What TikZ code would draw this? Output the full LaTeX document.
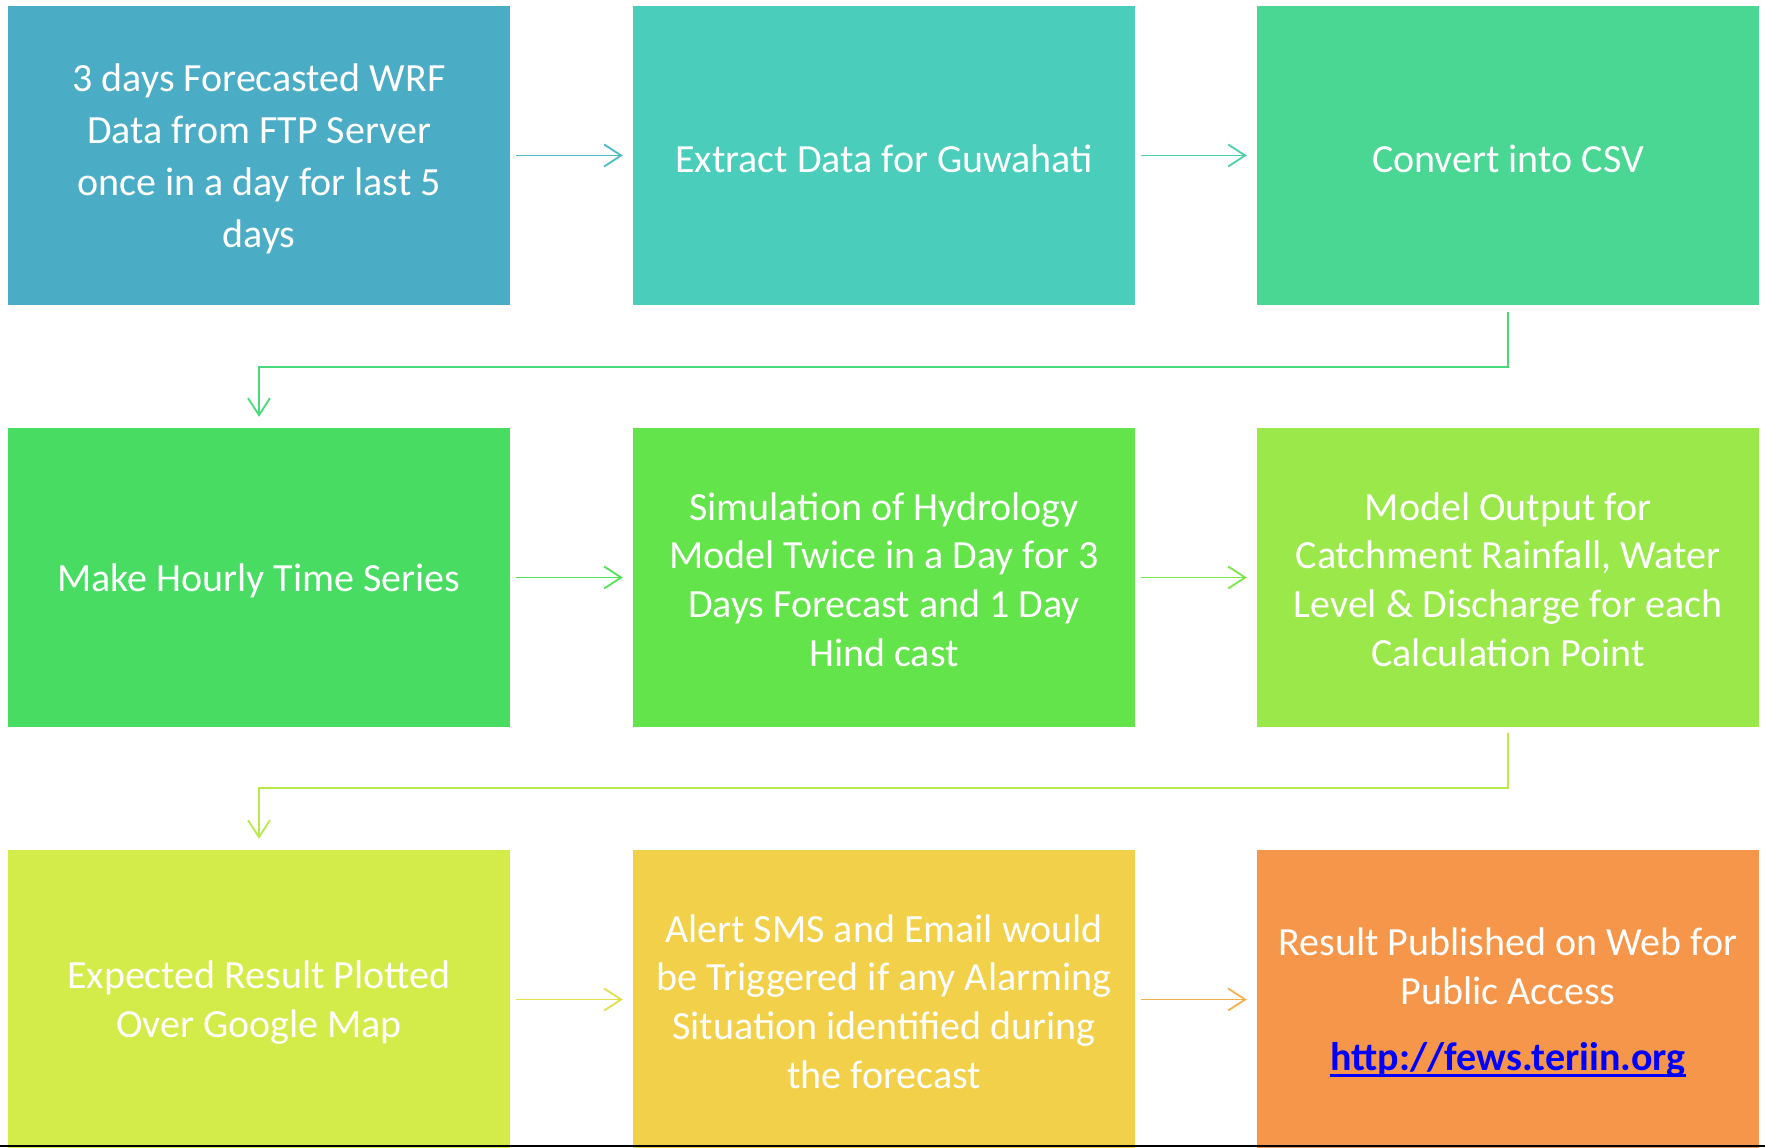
\documentclass[tikz,border=0pt]{standalone}
\usepackage{fontspec}
\setmainfont{Carlito}
\usetikzlibrary{arrows.meta}
\definecolor{c1}{HTML}{4BACC6}
\definecolor{c2}{HTML}{4ACDBB}
\definecolor{c3}{HTML}{4AD693}
\definecolor{c4}{HTML}{48DC62}
\definecolor{c5}{HTML}{62E44A}
\definecolor{c6}{HTML}{9AE84A}
\definecolor{c7}{HTML}{D4EC4A}
\definecolor{c8}{HTML}{F2D04A}
\definecolor{c9}{HTML}{F6964A}
\definecolor{linkblue}{HTML}{0000FF}
\newlength\ulwd
\newcommand\myuline[1]{\settowidth{\ulwd}{#1}\rlap{\rule[-7pt]{\ulwd}{3pt}}#1}
\begin{document}
\begin{tikzpicture}[x=1pt,y=-1pt,
  box/.style={rectangle, minimum width=502pt, minimum height=299pt, inner sep=0pt},
  txt/.style={inner sep=0pt, text=white, align=center, font=\fontsize{40pt}{48.8pt}\selectfont},
  txtwide/.style={txt, font=\fontsize{40pt}{52pt}\selectfont},
  arr/.style={line width=1.8pt, -{Straight Barb[length=17pt,width=22pt]}}]
\useasboundingbox (0,0) rectangle (1765,1148);
% boxes
\node[box, fill=c1] (b1) at (259,155.5) {};
\node[box, fill=c2] (b2) at (884,155.5) {};
\node[box, fill=c3] (b3) at (1508,155.5) {};
\node[box, fill=c4] (b4) at (259,577.5) {};
\node[box, fill=c5] (b5) at (884,577.5) {};
\node[box, fill=c6] (b6) at (1508,577.5) {};
\node[box, fill=c7] (b7) at (259,999.5) {};
\node[box, fill=c8] (b8) at (884,999.5) {};
\node[box, fill=c9] (b9) at (1508,999.5) {};
% texts
\node[txtwide] (t1) at ([yshift=-3pt]b1.center) {3 days Forecasted WRF\\Data from FTP Server\\once in a day for last 5\\days};
\node[txt] (t2) at ([yshift=-3pt]b2.center) {Extract Data for Guwahati};
\node[txt] (t3) at ([yshift=-3pt]b3.center) {Convert into CSV};
\node[txt] (t4) at ([yshift=-3pt]b4.center) {Make Hourly Time Series};
\node[txt] (t5) at ([yshift=-2pt]b5.center) {Simulation of Hydrology\\Model Twice in a Day for 3\\Days Forecast and 1 Day\\Hind cast};
\node[txt] (t6) at ([yshift=-2pt]b6.center) {Model Output for\\Catchment Rainfall, Water\\Level \& Discharge for each\\Calculation Point};
\node[txt] (t7) at ([yshift=-3pt]b7.center) {Expected Result Plotted\\Over Google Map};
\node[txt] (t8) at ([yshift=-2pt]b8.center) {Alert SMS and Email would\\be Triggered if any Alarming\\Situation identified during\\the forecast};
\node[txt] (t9) at ([yshift=-3pt]b9.center) {Result Published on Web for\\Public Access\\[17.6pt]{\bfseries\color{linkblue}\myuline{http://fews.teriin.org}}};
% horizontal arrows
\draw[arr, draw=c1!55!c2] ([xshift=6pt]b1.east) -- ([xshift=-10pt]b2.west);
\draw[arr, draw=c2!55!c3] ([xshift=6pt]b2.east) -- ([xshift=-10pt]b3.west);
\draw[arr, draw=c4!55!c5] ([xshift=6pt]b4.east) -- ([xshift=-10pt]b5.west);
\draw[arr, draw=c5!55!c6] ([xshift=6pt]b5.east) -- ([xshift=-10pt]b6.west);
\draw[arr, draw=c7!55!c8] ([xshift=6pt]b7.east) -- ([xshift=-10pt]b8.west);
\draw[arr, draw=c8!45!c9] ([xshift=6pt]b8.east) -- ([xshift=-10pt]b9.west);
% bending connectors
\coordinate (k1) at (0,367);
\coordinate (k2) at (0,788);
\draw[arr, draw=c3!50!c4] ([yshift=-7pt]b3.south) -- (b3.south |- k1) -| ([yshift=11pt]b4.north);
\draw[arr, draw=c6!50!c7] ([yshift=-6pt]b6.south) -- (b6.south |- k2) -| ([yshift=11pt]b7.north);
% bottom rule
\coordinate (r1) at (0,1146);
\coordinate (r2) at (1765,1146);
\draw[line width=2.5pt, black] (r1) -- (r2);
\end{tikzpicture}
\end{document}
